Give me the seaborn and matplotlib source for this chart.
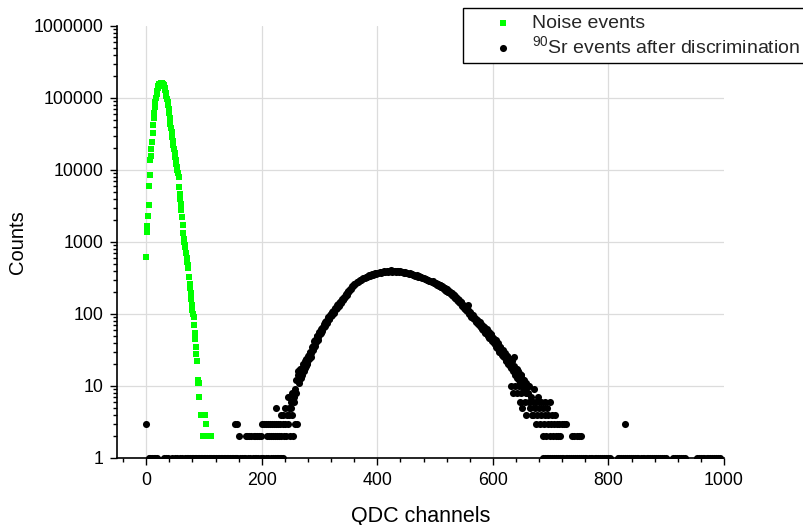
import numpy as np
import pandas as pd
import matplotlib
matplotlib.use("Agg")
import matplotlib.pyplot as plt
import seaborn as sns
from matplotlib.ticker import MultipleLocator, LogLocator, FuncFormatter, NullFormatter

# ---------------- data ----------------
# Noise events: counts per QDC channel (channels 0..92) plus sparse tail
noise_main_y = [
    610, 1390, 1670, 2300, 3270, 6050, 8500, 13800, 15600, 19400,
    24800, 32300, 42200, 52000, 62000, 75000, 87000, 100000, 115000, 127000,
    137000, 145000, 151000, 155000, 158000, 160000, 161000, 161000, 160000, 157000,
    153000, 146000, 138000, 129000, 119000, 108000, 97000, 87000, 79000, 70000,
    61000, 52000, 44000, 38000, 34000, 29000, 25000, 22000, 19500, 17000,
    15300, 13800, 12300, 11100, 10000, 9000, 8000, 5800, 4600, 4000,
    3400, 2800, 2200, 1750, 1350, 1100, 1000, 920, 860, 700,
    600, 530, 480, 440, 330, 260, 230, 195, 160, 135,
    114, 100, 91, 70, 55, 45, 35, 28, 22, 12,
    11, 11, 7,
]
noise_main_x = list(range(0, len(noise_main_y)))
noise_tail_x = [95, 97, 98, 100, 101, 102, 103, 104, 106, 108, 110, 112]
noise_tail_y = [4, 4, 2, 4, 2, 4, 3, 2, 2, 2, 2, 2]

# 90Sr events: main body, even channels from 262 to 660
sr_body_start = 262
sr_body_y = [
    14, 12, 16, 13, 18, 17, 22, 19, 21, 26,
    24, 30, 29, 36, 35, 43, 41, 49, 48, 57,
    54, 63, 67, 66, 78, 76, 86, 85, 97, 95,
    106, 104, 118, 121, 123, 136, 133, 149, 146, 161,
    170, 172, 189, 198, 205, 222, 226, 241, 244, 262,
    261, 277, 276, 291, 299, 296, 311, 316, 314, 328,
    326, 339, 343, 341, 356, 352, 363, 367, 364, 376,
    371, 381, 376, 387, 383, 391, 386, 395, 389, 399,
    391, 402, 388, 397, 400, 389, 394, 396, 385, 392,
    383, 388, 377, 381, 368, 373, 362, 366, 354, 359,
    347, 352, 339, 343, 331, 336, 323, 327, 316, 320,
    307, 310, 298, 301, 288, 291, 279, 284, 269, 273,
    259, 262, 249, 253, 239, 241, 228, 230, 216, 219,
    204, 207, 193, 196, 183, 182, 169, 171, 158, 159,
    146, 147, 134, 135, 122, 125, 113, 114, 104, 105,
    95, 97, 87, 89, 80, 83, 74, 77, 68, 71,
    62, 66, 57, 60, 52, 56, 47, 51, 43, 46,
    39, 43, 35, 38, 32, 35, 29, 31, 26, 28,
    23, 26, 21, 24, 19, 22, 17, 25, 15, 17,
    13, 16, 12, 14, 10, 12, 9, 11, 8, 10,
]
sr_body_x = list(range(sr_body_start, sr_body_start + 2 * len(sr_body_y), 2))

# 90Sr events: odd channels on the rising flank (263..351)
sr_odd_left_start = 263
sr_odd_left_y = [
    16, 11, 17, 14, 20, 16, 18, 24, 20, 27,
    29, 25, 35, 32, 42, 36, 49, 44, 56, 52,
    62, 58, 72, 68, 80, 74, 90, 84, 101, 96,
    111, 102, 121, 116, 134, 128, 147, 140, 160, 156,
    166, 186, 184, 209, 206,
]
sr_odd_left_x = list(range(sr_odd_left_start, sr_odd_left_start + 2 * len(sr_odd_left_y), 2))

# 90Sr events: odd channels on the falling flank (501..659)
sr_odd_right_start = 501
sr_odd_right_y = [
    271, 255, 261, 246, 251, 235, 240, 223, 229, 212,
    216, 201, 205, 190, 194, 178, 181, 165, 169, 153,
    156, 141, 145, 129, 133, 119, 123, 109, 112, 100,
    104, 92, 96, 84, 88, 78, 83, 72, 77, 66,
    71, 60, 66, 54, 61, 50, 56, 46, 52, 42,
    47, 38, 43, 34, 39, 30, 35, 27, 32, 25,
    29, 22, 26, 20, 24, 18, 22, 16, 19, 14,
    17, 13, 15, 11, 14, 10, 12, 9, 11, 8,
]
sr_odd_right_x = list(range(sr_odd_right_start, sr_odd_right_start + 2 * len(sr_odd_right_y), 2))

# 90Sr low-count points, left side
sr_left_x = [0, 154, 157, 161, 172, 175, 178, 182, 186, 188, 192, 195, 198, 201, 204, 207,
             209, 211, 212, 214, 216, 217, 219, 221, 223, 224, 225, 227, 228, 230, 231, 233,
             234, 236, 237, 239, 240, 241, 242, 243, 245, 246, 247, 248, 249, 250, 251, 252,
             253, 254, 255, 256, 257, 258, 259, 260, 261]
sr_left_y = [3, 3, 3, 2, 2, 2, 2, 2, 2, 2, 2, 2, 2, 3, 3, 3,
             2, 3, 2, 3, 2, 3, 2, 3, 2, 5, 3, 2, 3, 2, 3, 4,
             2, 3, 4, 2, 3, 5, 2, 4, 3, 7, 5, 4, 2, 6, 5, 8,
             4, 2, 7, 6, 9, 3, 8, 12, 3]

# 90Sr low-count points, right side
sr_right_x = [557, 631, 635, 639, 641, 645, 647, 649, 651, 653, 655, 657, 661, 662, 663,
              665, 666, 667, 669, 670, 671, 673, 674, 675, 677, 678, 679, 681, 683, 684, 686,
              687, 689, 690, 691, 692, 694, 695, 696, 698, 699, 700, 702, 704, 706, 707, 709,
              711, 713, 715, 717, 720, 723, 726, 737, 741, 745, 749, 752, 829]
sr_right_y = [133, 10, 8, 10, 8, 10, 6, 8, 5, 9, 6, 4, 8, 6, 10,
              5, 7, 4, 6, 4, 9, 5, 3, 6, 4, 7, 5, 3, 6, 4, 2,
              5, 3, 6, 4, 2, 5, 3, 4, 2, 6, 3, 4, 2, 3, 4, 2,
              3, 2, 3, 2, 3, 3, 3, 2, 2, 2, 2, 2, 3]

# 90Sr channels with a single count (drawn on the bottom axis)
sr_single_x = [4, 7, 10, 13, 16, 19, 31, 34, 37, 45, 49, 54, 58, 62, 67, 70, 73, 76, 79, 81,
               84, 86, 89, 92, 94, 97, 100, 102, 105, 108, 110, 113, 116, 118, 121, 124, 126,
               129, 132, 134, 137, 140, 142, 145, 148, 150, 153, 156, 158, 163, 166, 169, 171,
               176, 180, 184, 188, 190, 194, 198, 200, 203, 207, 211, 216, 220, 223, 226, 228,
               231, 234, 237,
               687, 690, 693, 696, 699, 703, 706, 709, 712, 716, 719, 722, 726, 729, 732, 735,
               739, 742, 746, 749, 752, 756, 759, 762, 766, 769, 772, 776, 779, 782, 786, 789,
               792, 796, 799, 802, 816, 819, 822, 826, 829, 832, 836, 839, 842, 846, 849, 852,
               856, 859, 862, 866, 869, 872, 876, 879, 882, 886, 889, 892, 896, 899, 912, 915,
               919, 922, 926, 929, 932, 953, 956, 960, 963, 966, 970, 973, 976, 980, 983, 986,
               990, 993]
sr_single_y = [1] * len(sr_single_x)

noise_label = "Noise events"
sr_label = r"$^{90}$Sr events after discrimination"
x_label = "QDC channels"
y_label = "Counts"

# ---------------- tables ----------------
noise_df = pd.DataFrame({"channel": noise_main_x + noise_tail_x,
                         "counts": noise_main_y + noise_tail_y})
sr_df = pd.DataFrame({
    "channel": sr_single_x + sr_left_x + sr_body_x + sr_odd_left_x + sr_odd_right_x + sr_right_x,
    "counts": sr_single_y + sr_left_y + sr_body_y + sr_odd_left_y + sr_odd_right_y + sr_right_y,
})

# ---------------- style ----------------
sns.set_theme(style="ticks")
plt.rcParams["font.family"] = ["Liberation Sans", "DejaVu Sans"]
plt.rcParams["mathtext.fontset"] = "custom"
plt.rcParams["mathtext.rm"] = "Liberation Sans"
plt.rcParams["mathtext.it"] = "Liberation Sans:italic"
plt.rcParams["mathtext.bf"] = "Liberation Sans:bold"
plt.rcParams["mathtext.default"] = "regular"

W, H = 804, 525
fig = plt.figure(figsize=(W / 100, H / 100), dpi=100)
ax = fig.add_axes([117.3 / W, 1 - 458 / H, (724 - 117.3) / W, (458 - 26) / H])

sns.scatterplot(data=noise_df, x="channel", y="counts", marker="s", s=18,
                color="#00ff00", linewidth=0, ax=ax, label=noise_label, zorder=3)
sns.scatterplot(data=sr_df, x="channel", y="counts", marker="o", s=26,
                color="black", linewidth=0, ax=ax, label=sr_label, zorder=4)

ax.set_yscale("log")
ax.set_xlim(-50, 1000)
ax.set_ylim(1, 1e6)

ax.xaxis.set_major_locator(MultipleLocator(200))
ax.xaxis.set_minor_locator(MultipleLocator(40))
ax.yaxis.set_major_locator(LogLocator(base=10, numticks=10))
ax.yaxis.set_minor_locator(LogLocator(base=10, subs=np.arange(2, 10), numticks=100))
ax.yaxis.set_major_formatter(FuncFormatter(lambda v, p: f"{v:.0f}"))
ax.yaxis.set_minor_formatter(NullFormatter())
ax.xaxis.set_minor_formatter(NullFormatter())

ax.tick_params(which="major", direction="out", length=5, width=1.0, color="black",
               labelsize=12.8, labelcolor="black", pad=5)
ax.tick_params(which="minor", direction="out", length=3, width=1.0, color="black")

for side in ("top", "right"):
    ax.spines[side].set_visible(False)
for side in ("left", "bottom"):
    ax.spines[side].set_color("black")
    ax.spines[side].set_linewidth(1.2)

ax.grid(True, which="major", color="#dcdcdc", linewidth=0.9)
ax.set_axisbelow(True)

ax.set_xlabel(x_label, fontsize=15.5, color="black", labelpad=12)
ax.set_ylabel(y_label, fontsize=14.5, color="black", labelpad=5)

leg = ax.legend(loc="upper left", bbox_to_anchor=(462.7 / W, 1 - 8.3 / H),
                bbox_transform=fig.transFigure, borderaxespad=0,
                frameon=True, fancybox=False, framealpha=1, edgecolor="black",
                fontsize=14, borderpad=0.3, handlelength=3.55, handletextpad=-0.3,
                labelspacing=0.2)
leg.get_frame().set_linewidth(1.0)

# no grid lines on the plot edges (x = 1000, y = 1e6)
fig.canvas.draw()
for t in ax.xaxis.get_major_ticks():
    if abs(t.get_loc() - 1000) < 1e-6:
        t.gridline.set_visible(False)
for t in ax.yaxis.get_major_ticks():
    if abs(t.get_loc() - 1e6) < 1e-3:
        t.gridline.set_visible(False)

fig.savefig("out.png", dpi=100)
